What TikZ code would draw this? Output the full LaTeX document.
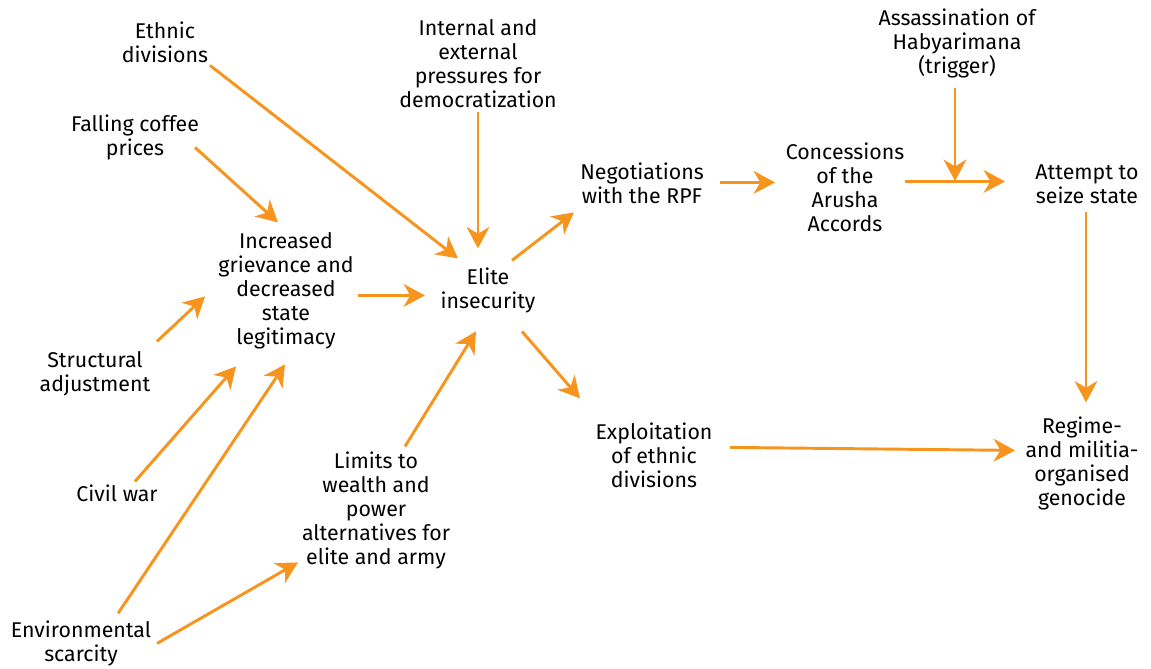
\documentclass[tikz,border=0pt]{standalone}
\usepackage{fontspec}
\setmainfont{Fira Sans}
\usetikzlibrary{arrows.meta,calc}
\definecolor{org}{HTML}{F7941D}
\begin{document}
\begin{tikzpicture}[x=0.75pt,y=-0.75pt,
  lbl/.style={align=center,inner sep=0pt,yshift=-0.3pt,font=\fontsize{16}{18}\selectfont},
  arr/.style={draw=org,line width=2.2pt,-{Stealth[length=16pt,width=17pt,inset=5pt]}}]
\useasboundingbox (0,0) rectangle (1151,668);
\node[lbl] (eth) at (165,42) {Ethnic\\divisions};
\node[lbl] (press) at (478,63) {Internal and\\external\\pressures for\\democratization};
\node[lbl] (ass) at (957,43) {Assassination of\\Habyarimana\\(trigger)};
\node[lbl] (coffee) at (135,137) {Falling coffee\\prices};
\node[lbl] (neg) at (642,183) {Negotiations\\with the RPF};
\node[lbl] (conc) at (845,187) {Concessions\\of the\\Arusha\\Accords};
\node[lbl] (att) at (1087,184) {Attempt to\\seize state};
\node[lbl] (incr) at (286,290) {Increased\\grievance and\\decreased\\state\\legitimacy};
\node[lbl] (elite) at (488,290) {Elite\\insecurity};
\node[lbl] (struct) at (95,373) {Structural\\adjustment};
\node[lbl] (civil) at (117,493) {Civil war};
\node[lbl] (expl) at (654,455) {Exploitation\\of ethnic\\divisions};
\node[lbl] (reg) at (1082,463) {Regime-\\and militia-\\organised\\genocide};
\node[lbl] (lim) at (376,510) {Limits to\\wealth and\\power\\alternatives for\\elite and army};
\node[lbl] (env) at (81,643) {Environmental\\scarcity};
\coordinate (junc) at (955,181);

\draw[arr] ($(eth)+(45,23)$) -- ($(elite)+(-30,-32)$);
\draw[arr] ($(press)+(0,49)$) -- ($(elite)+(-10,-42)$);
\draw[arr] ($(coffee)+(60,10)$) -- ($(incr)+(-8,-68)$);
\draw[arr] ($(incr)+(72,5)$) -- ($(elite)+(-63,5)$);
\draw[arr] ($(struct)+(62,-32)$) -- ($(incr)+(-81,6)$);
\draw[arr] ($(civil)+(18,-12)$) -- ($(incr)+(-50,76)$);
\draw[arr] ($(env)+(37,-30)$) -- ($(incr)+(-1,74)$);
\draw[arr] ($(env)+(76,0)$) -- ($(lim)+(-78,52)$);
\draw[arr] ($(lim)+(29,-64)$) -- ($(elite)+(-12,41)$);
\draw[arr] ($(elite)+(24,-30)$) -- ($(neg)+(-68,29)$);
\draw[arr] ($(elite)+(34,41)$) -- ($(expl)+(-74,-57)$);
\draw[arr] ($(neg)+(78,-1)$) -- ($(conc)+(-70,-5)$);
\draw[arr] ($(conc)+(60,-6)$) -- ($(att)+(-82,-3)$);
\draw[arr] ($(ass)+(-2,45)$) -- (junc);
\draw[arr] ($(att)+(-1,28)$) -- ($(reg)+(4,-61)$);
\draw[arr] ($(expl)+(76,-8)$) -- ($(reg)+(-67,-13)$);
\end{tikzpicture}
\end{document}
